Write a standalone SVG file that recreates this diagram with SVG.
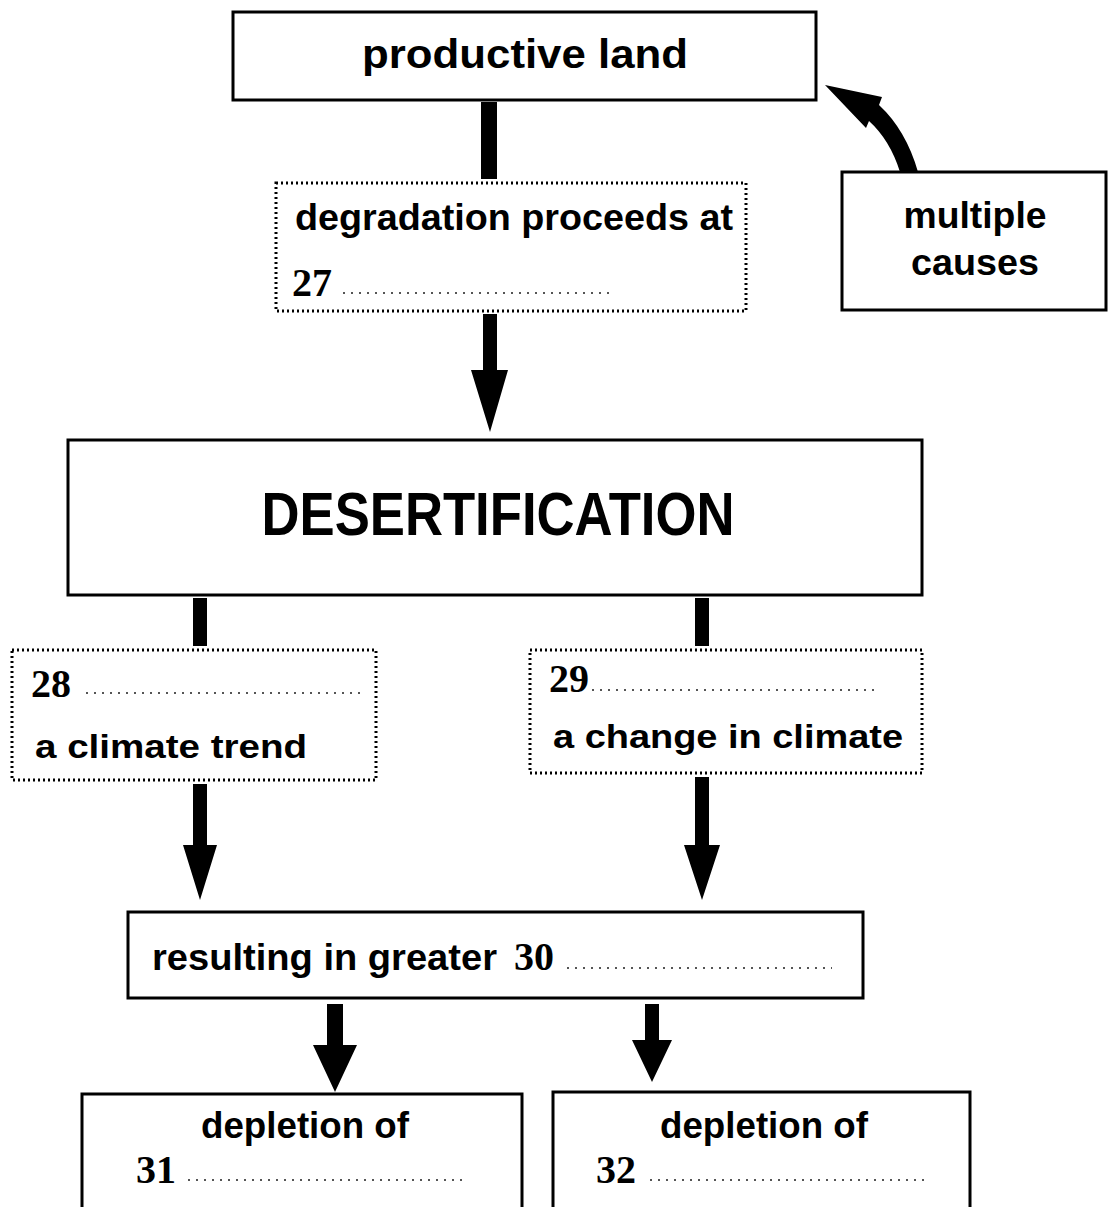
<svg xmlns="http://www.w3.org/2000/svg" width="1112" height="1207" viewBox="0 0 1112 1207">
<style>
.box{fill:#fff;stroke:#000;stroke-width:3}
.dbox{fill:#fff;stroke:#000;stroke-width:3;stroke-dasharray:2 3}
.t{font-family:"Liberation Sans",Arial,sans-serif;font-weight:bold;fill:#000}
.n{font-family:"Liberation Serif","Times New Roman",serif;font-weight:bold;fill:#000;font-size:40px}
.lead{stroke:#555;stroke-width:2;stroke-dasharray:2 6}
.bar{fill:#000}
</style>
<g id="connectors">
  <rect class="bar" x="481" y="102" width="16" height="77"/>
  <path class="bar" d="M483,314 H497 V370 H508 L490,432 L471,370 H483 Z"/>
  <path class="bar" d="M900,172 Q890,140 869,121 L866,128 L825,85 L882,97 L879,105 Q906,130 918,172 Z"/>
  <rect class="bar" x="193" y="598" width="14" height="48"/>
  <rect class="bar" x="695" y="598" width="14" height="48"/>
  <path class="bar" d="M193,784 H207 V845 H217 L200,900 L183,845 H193 Z"/>
  <path class="bar" d="M695,777 H709 V845 H720 L702,900 L684,845 H695 Z"/>
  <path class="bar" d="M327,1004 H343 V1045 H357 L335,1092 L313,1045 H327 Z"/>
  <path class="bar" d="M645,1004 H659 V1040 H672 L652,1082 L632,1040 H645 Z"/>
</g>
<g id="productive-land">
  <rect class="box" x="233" y="12" width="583" height="88"/>
  <text class="t" x="525" y="68" font-size="40" text-anchor="middle" textLength="326" lengthAdjust="spacingAndGlyphs">productive land</text>
</g>
<g id="degradation">
  <rect class="dbox" x="276" y="183" width="470" height="128"/>
  <text class="t" x="295" y="230" font-size="36" textLength="438" lengthAdjust="spacingAndGlyphs">degradation proceeds at</text>
  <text class="n" x="292" y="296">27</text>
  <line class="lead" x1="343" y1="293" x2="612" y2="293"/>
</g>
<g id="multiple-causes">
  <rect class="box" x="842" y="172" width="264" height="138"/>
  <text class="t" x="975" y="228" font-size="36" text-anchor="middle" textLength="143" lengthAdjust="spacingAndGlyphs">multiple</text>
  <text class="t" x="975" y="275" font-size="36" text-anchor="middle" textLength="128" lengthAdjust="spacingAndGlyphs">causes</text>
</g>
<g id="desertification">
  <rect class="box" x="68" y="440" width="854" height="155"/>
  <text class="t" x="498" y="535" font-size="62" text-anchor="middle" textLength="473" lengthAdjust="spacingAndGlyphs">DESERTIFICATION</text>
</g>
<g id="climate-trend">
  <rect class="dbox" x="12" y="650" width="364" height="130"/>
  <text class="n" x="31" y="697">28</text>
  <line class="lead" x1="86" y1="693" x2="360" y2="693"/>
  <text class="t" x="35" y="758" font-size="34" textLength="272" lengthAdjust="spacingAndGlyphs">a climate trend</text>
</g>
<g id="change-in-climate">
  <rect class="dbox" x="530" y="650" width="392" height="123"/>
  <text class="n" x="549" y="692">29</text>
  <line class="lead" x1="592" y1="690" x2="880" y2="690"/>
  <text class="t" x="553" y="748" font-size="34" textLength="350" lengthAdjust="spacingAndGlyphs">a change in climate</text>
</g>
<g id="resulting">
  <rect class="box" x="128" y="912" width="735" height="86"/>
  <text class="t" x="152" y="970" font-size="36" textLength="345" lengthAdjust="spacingAndGlyphs">resulting in greater</text>
  <text class="n" x="514" y="970">30</text>
  <line class="lead" x1="567" y1="968" x2="832" y2="968"/>
</g>
<g id="depletion-31">
  <rect class="box" x="82" y="1094" width="440" height="130"/>
  <text class="t" x="305" y="1138" font-size="36" text-anchor="middle" textLength="208" lengthAdjust="spacingAndGlyphs">depletion of</text>
  <text class="n" x="136" y="1183">31</text>
  <line class="lead" x1="188" y1="1180" x2="466" y2="1180"/>
</g>
<g id="depletion-32">
  <rect class="box" x="553" y="1092" width="417" height="130"/>
  <text class="t" x="764" y="1138" font-size="36" text-anchor="middle" textLength="208" lengthAdjust="spacingAndGlyphs">depletion of</text>
  <text class="n" x="596" y="1183">32</text>
  <line class="lead" x1="650" y1="1180" x2="926" y2="1180"/>
</g>
</svg>
